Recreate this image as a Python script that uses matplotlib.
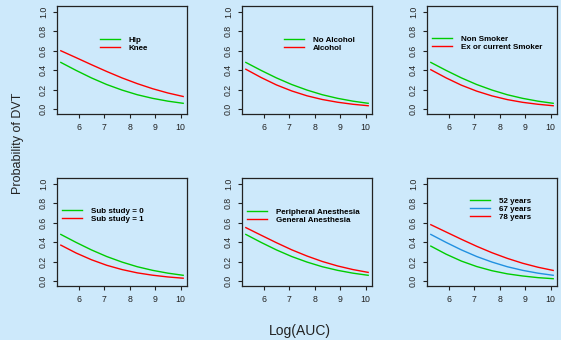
import matplotlib.pyplot as plt

# ------------------------------------------------
# Datos (probabilidad de TVP frente a Log(AUC))
# ------------------------------------------------
log_auc = [5.3, 5.9, 6.5, 7.1, 7.7, 8.3, 8.9, 9.5, 10.1]

# curva de referencia (verde en casi todos los paneles)
ref = [0.480, 0.398, 0.321, 0.253, 0.196, 0.148, 0.111, 0.082, 0.060]

knee = [0.600, 0.529, 0.457, 0.387, 0.321, 0.262, 0.210, 0.166, 0.130]
alcohol = [0.410, 0.325, 0.249, 0.187, 0.137, 0.099, 0.071, 0.050, 0.035]
smoker = [0.405, 0.321, 0.246, 0.185, 0.136, 0.098, 0.070, 0.050, 0.035]
sub1 = [0.370, 0.289, 0.220, 0.163, 0.119, 0.085, 0.061, 0.043, 0.030]
general = [0.550, 0.472, 0.395, 0.322, 0.258, 0.202, 0.156, 0.119, 0.090]
age52 = [0.360, 0.277, 0.206, 0.150, 0.107, 0.075, 0.053, 0.036, 0.025]
age67 = [0.480, 0.398, 0.321, 0.253, 0.196, 0.148, 0.111, 0.082, 0.060]
age78 = [0.580, 0.505, 0.430, 0.358, 0.292, 0.234, 0.184, 0.143, 0.110]

GREEN = '#00cc00'
RED = '#ff0000'
BLUE = '#2090e0'

# (series, etiquetas, colores, posicion de la leyenda)
panels = [
    ([ref, knee], ['Hip', 'Knee'], [GREEN, RED], (0.33, 0.72)),
    ([ref, alcohol], ['No Alcohol', 'Alcohol'], [GREEN, RED], (0.32, 0.72)),
    ([ref, smoker], ['Non Smoker', 'Ex or current Smoker'], [GREEN, RED], (0.04, 0.73)),
    ([ref, sub1], ['Sub study = 0', 'Sub study = 1'], [GREEN, RED], (0.04, 0.73)),
    ([ref, general], ['Peripheral Anesthesia', 'General Anesthesia'], [GREEN, RED], (0.04, 0.72)),
    ([age52, age67, age78], ['52 years', '67 years', '78 years'], [GREEN, BLUE, RED], (0.33, 0.82)),
]

plt.rcParams['font.family'] = ['Liberation Sans', 'DejaVu Sans']
BG = '#cde9fb'

W, H = 561, 340
fig = plt.figure(figsize=(W / 100, H / 100), dpi=100, facecolor=BG)

lefts = [57, 242, 427]
tops = [6, 178]
pw, ph = 130, 108

for i, (series, labels, colors, leg_pos) in enumerate(panels):
    r, c = divmod(i, 3)
    x0 = lefts[c] / W
    y0 = 1 - (tops[r] + ph) / H
    ax = fig.add_axes([x0, y0, pw / W, ph / H], facecolor=BG)

    for ys, lab, col in zip(series, labels, colors):
        ax.plot(log_auc, ys, color=col, lw=1.0, label=lab)

    ax.set_xlim(5.15, 10.25)
    ax.set_ylim(-0.05, 1.06)
    ax.set_xticks([6, 7, 8, 9, 10])
    ax.set_yticks([0.0, 0.2, 0.4, 0.6, 0.8, 1.0])
    ax.set_yticklabels(['0.0', '0.2', '0.4', '0.6', '0.8', '1.0'],
                       rotation=90, va='center')
    ax.tick_params(labelsize=6.3, length=3, width=0.8, pad=3.5,
                   colors='#222222')
    for sp in ax.spines.values():
        sp.set_linewidth(0.9)
        sp.set_color('#222222')

    ax.legend(loc='upper left', bbox_to_anchor=leg_pos, frameon=False,
              prop={'weight': 'bold', 'size': 5.8},
              handlelength=2.5, handletextpad=1.1, labelspacing=0.05,
              borderpad=0, borderaxespad=0)

fig.text(18 / W, 1 - 143 / H, 'Probability of DVT', rotation=90,
         ha='center', va='center', fontsize=9, color='#222222')
fig.text(300 / W, 1 - 331 / H, 'Log(AUC)', ha='center', va='center',
         fontsize=10, color='#222222')

fig.savefig('out.png', dpi=100, facecolor=BG)
plt.close(fig)
